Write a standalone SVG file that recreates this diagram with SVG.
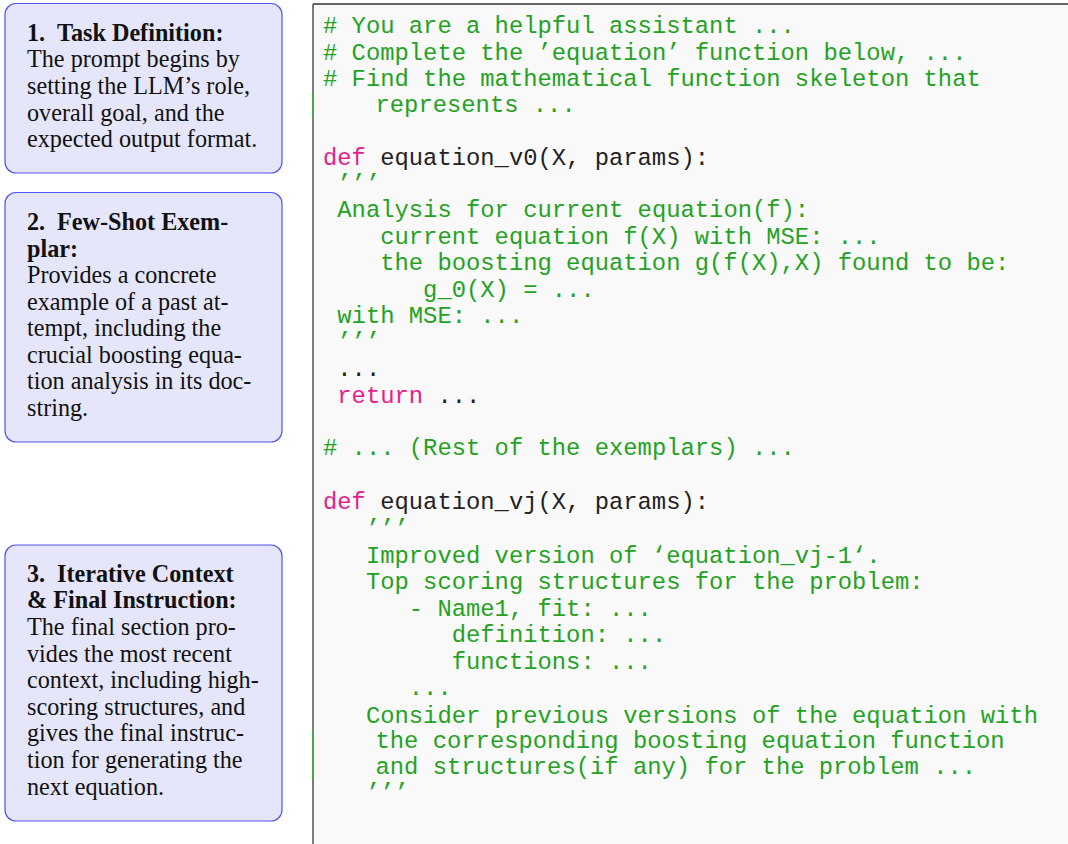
<svg xmlns="http://www.w3.org/2000/svg" width="1068" height="844" viewBox="0 0 1068 844">
<style>
.box{fill:#e6e6fa;stroke:#5252ee;stroke-width:1.2}
.t{font-family:"Liberation Serif","Times New Roman",serif;font-size:24.2px;fill:#111}
.b{font-weight:bold}
.c{font-family:"Liberation Mono","Courier New",monospace;font-size:23.83px}
.g{fill:#24a224}
.k{fill:#e8208c}
.n{fill:#222}
</style>
<rect width="1068" height="844" fill="#ffffff"/>
<g id="code-panel">
<rect x="313" y="4" width="760" height="845" fill="#f9f9f9"/>
<line x1="313" y1="4" x2="1068" y2="4" stroke="#333" stroke-width="1.5"/>
<line x1="313" y1="4" x2="313" y2="844" stroke="#444" stroke-width="1.4"/>
<line x1="313" y1="93" x2="313" y2="118" stroke="#3cb83c" stroke-width="1.4"/>
<line x1="313" y1="730" x2="313" y2="780" stroke="#3cb83c" stroke-width="1.4"/>
<g class="c">
<text class="g" x="323" y="33"># You are a helpful assistant ...</text>
<text class="g" x="323" y="59.5"># Complete the ’equation’ function below, ...</text>
<text class="g" x="323" y="86"># Find the mathematical function skeleton that</text>
<text class="g" x="375.5" y="112">represents ...</text>
<text x="323" y="165"><tspan class="k">def</tspan><tspan class="n" x="380.2">equation_v0(X, params):</tspan></text>
<text class="g" x="337.3" y="191">’’’</text>
<text class="g" x="337.3" y="217">Analysis for current equation(f):</text>
<text class="g" x="380.2" y="243.5">current equation f(X) with MSE: ...</text>
<text class="g" x="380.2" y="270">the boosting equation g(f(X),X) found to be:</text>
<text class="g" x="423.1" y="296.5">g_0(X) = ...</text>
<text class="g" x="337.3" y="323">with MSE: ...</text>
<text class="g" x="337.3" y="349">’’’</text>
<text class="n" x="337.3" y="376">...</text>
<text x="337.3" y="402.5"><tspan class="k">return</tspan><tspan class="n" x="437.4">...</tspan></text>
<text class="g" x="323" y="455"># ... (Rest of the exemplars) ...</text>
<text x="323" y="509"><tspan class="k">def</tspan><tspan class="n" x="380.2">equation_vj(X, params):</tspan></text>
<text class="g" x="365.9" y="536">’’’</text>
<text class="g" x="365.9" y="563">Improved version of ‘equation_vj-1‘.</text>
<text class="g" x="365.9" y="589">Top scoring structures for the problem:</text>
<text class="g" x="408.8" y="615.5">- Name1, fit: ...</text>
<text class="g" x="451.7" y="642">definition: ...</text>
<text class="g" x="451.7" y="668.5">functions: ...</text>
<text class="g" x="408.8" y="695">...</text>
<text class="g" x="365.9" y="722.5">Consider previous versions of the equation with</text>
<text class="g" x="375.5" y="748">the corresponding boosting equation function</text>
<text class="g" x="375.5" y="774">and structures(if any) for the problem ...</text>
<text class="g" x="365.9" y="800">’’’</text>
</g>
</g>
<g id="box-task-definition">
<rect class="box" x="5" y="3.5" width="277" height="169.5" rx="11"/>
<text class="t b" x="27" y="40.5">1.</text>
<text class="t b" x="57" y="40.5">Task Definition:</text>
<text class="t" x="27" y="67.3">The prompt begins by</text>
<text class="t" x="27" y="94">setting the LLM’s role,</text>
<text class="t" x="27" y="120.5">overall goal, and the</text>
<text class="t" x="27" y="147">expected output format.</text>
</g>
<g id="box-few-shot">
<rect class="box" x="5" y="192.5" width="277" height="249.5" rx="11"/>
<text class="t b" x="27" y="230">2.</text>
<text class="t b" x="57" y="230">Few-Shot Exem-</text>
<text class="t b" x="27" y="256.7">plar:</text>
<text class="t" x="27" y="283">Provides a concrete</text>
<text class="t" x="27" y="309.5">example of a past at-</text>
<text class="t" x="27" y="336">tempt, including the</text>
<text class="t" x="27" y="362.5">crucial boosting equa-</text>
<text class="t" x="27" y="389">tion analysis in its doc-</text>
<text class="t" x="27" y="415.5">string.</text>
</g>
<g id="box-iterative-context">
<rect class="box" x="5" y="545" width="277" height="276" rx="11"/>
<text class="t b" x="27" y="581.7">3.</text>
<text class="t b" x="57" y="581.7">Iterative Context</text>
<text class="t b" x="27" y="608.3">&amp; Final Instruction:</text>
<text class="t" x="27" y="634.9">The final section pro-</text>
<text class="t" x="27" y="661.5">vides the most recent</text>
<text class="t" x="27" y="688.1">context, including high-</text>
<text class="t" x="27" y="714.7">scoring structures, and</text>
<text class="t" x="27" y="741.3">gives the final instruc-</text>
<text class="t" x="27" y="767.9">tion for generating the</text>
<text class="t" x="27" y="794.5">next equation.</text>
</g>
<g id="connectors"/>
</svg>
